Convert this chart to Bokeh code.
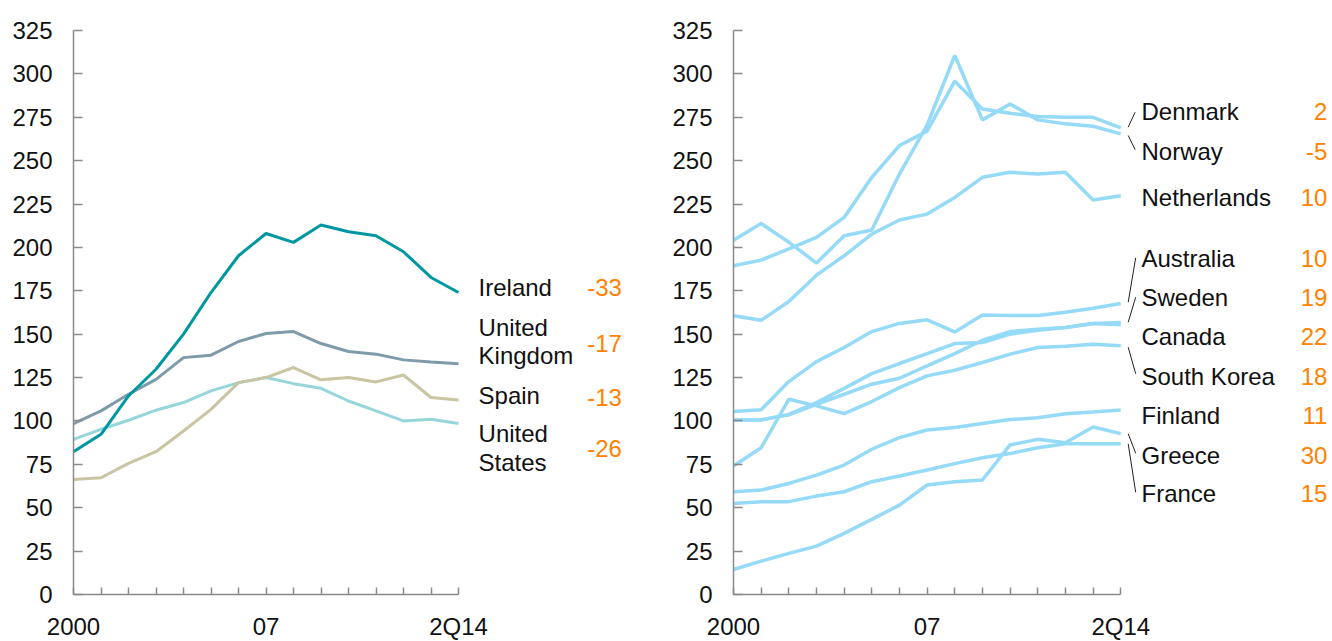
from bokeh.plotting import figure
from bokeh.layouts import row
from bokeh.models import Range1d, FixedTicker
from bokeh.core.properties import value
from bokeh.embed import file_html
from bokeh.resources import INLINE

# ---------------- data ----------------
periods = list(range(15))                      # 2000 ... 2Q14
x_tick_labels = {0: "2000", 7: "07", 14: "2Q14"}
y_ticks = list(range(0, 326, 25))

ireland = [82.3, 92.3, 114.4, 129.8, 150.0, 174.0, 195.2, 208.0, 202.9, 212.9, 209.0, 206.7, 197.5, 182.7, 174.0]
united_kingdom = [98.5, 105.8, 115.4, 124.0, 136.5, 137.9, 145.8, 150.4, 151.5, 144.6, 140.0, 138.5, 135.2, 134.0, 133.0]
spain = [66.2, 67.3, 75.6, 82.3, 94.2, 106.7, 122.1, 125.0, 130.8, 123.7, 125.0, 122.5, 126.5, 113.5, 112.1]
united_states = [89.4, 95.2, 100.4, 106.2, 110.6, 117.3, 122.1, 125.0, 121.5, 118.8, 111.5, 105.8, 100.0, 101.0, 98.5]

denmark = [189.4, 192.7, 199.2, 205.8, 217.3, 240.4, 258.7, 267.0, 295.8, 279.8, 277.3, 275.4, 275.0, 275.0, 268.9]
norway = [204.2, 213.8, 203.0, 191.0, 206.7, 210.0, 242.3, 270.5, 310.6, 273.5, 282.7, 273.5, 271.2, 269.8, 265.4]
netherlands = [160.6, 158.0, 168.8, 184.0, 195.2, 207.7, 215.8, 219.2, 228.8, 240.4, 243.3, 242.3, 243.3, 227.3, 229.8]
australia = [105.4, 106.5, 122.7, 134.2, 142.3, 151.5, 156.2, 158.3, 151.3, 161.0, 160.8, 160.8, 162.7, 165.0, 167.7]
sweden = [100.6, 100.6, 103.8, 110.6, 118.8, 127.3, 133.1, 138.8, 144.6, 145.2, 150.0, 152.3, 153.8, 156.2, 156.7]
canada = [100.6, 100.6, 103.5, 109.6, 115.4, 121.2, 124.6, 131.7, 138.8, 146.5, 151.5, 152.9, 153.8, 156.2, 155.4]
south_korea = [74.0, 84.6, 112.5, 108.7, 104.2, 111.2, 119.2, 126.0, 129.2, 133.7, 138.5, 142.3, 143.1, 144.2, 143.3]
finland = [59.2, 60.2, 64.0, 68.8, 74.6, 83.7, 90.4, 94.8, 96.2, 98.5, 100.8, 101.9, 104.2, 105.2, 106.3]
greece = [14.4, 19.2, 23.7, 27.9, 35.2, 43.3, 51.5, 63.1, 65.0, 66.0, 86.2, 89.4, 87.5, 96.5, 92.7]
france = [52.5, 53.5, 53.5, 56.7, 59.2, 65.0, 68.3, 71.7, 75.4, 78.8, 81.2, 84.6, 86.9, 86.9, 86.9]

left_series = ["United States", "Spain", "United Kingdom", "Ireland"]
left_values = [united_states, spain, united_kingdom, ireland]
left_labels = ["Ireland", "United", "Kingdom", "Spain", "United", "States"]
left_changes = ["-33", "-17", "-13", "-26"]

right_values = [denmark, norway, netherlands, australia, sweden, canada,
                south_korea, finland, greece, france]
right_labels = ["Denmark", "Norway", "Netherlands", "Australia", "Sweden",
                "Canada", "South Korea", "Finland", "Greece", "France"]
right_changes = ["2", "-5", "10", "10", "19", "22", "18", "11", "30", "15"]

# ---------------- layout / style ----------------
FONT = "Liberation Sans"
FS = "24px"
AXIS_COL = "#8a8a8a"
ORANGE = "#FF8200"
left_colors = ["#96D6DB", "#C9C4A2", "#7E9BAA", "#0097A3"]
right_color = "#95DAF6"

# label placement (value-axis positions of text rows)
left_label_y = [177.1, 154.0, 137.7, 114.7, 92.6, 76.2]
left_change_y = [177.1, 144.5, 113.7, 84.0]
right_label_y = [278.2, 255.2, 228.9, 193.8, 171.3, 148.9, 125.8, 103.2, 80.1, 58.2]
leaders = [  # x0, y0, x1, y1 in axis units
    (14.52, 277.9, 14.27, 269.3),
    (14.27, 264.5, 14.52, 256.3),
    (14.54, 194.0, 14.27, 168.4),
    (14.54, 171.3, 14.27, 156.9),
    (14.27, 142.5, 14.54, 127.2),
    (14.27, 92.6, 14.54, 81.4),
    (14.27, 86.8, 14.54, 58.9),
]

TOP = 30
FRAME_H = 564
BOTTOM = 72
H = TOP + FRAME_H + BOTTOM


def make_panel(width, left_border, px_per_unit):
    frame_w = width - left_border
    p = figure(width=width, height=H, output_backend="svg", toolbar_location=None,
               x_range=Range1d(0, frame_w / px_per_unit), y_range=Range1d(0, 325),
               min_border_left=left_border, min_border_right=0,
               min_border_top=TOP, min_border_bottom=BOTTOM)
    p.outline_line_color = None
    p.grid.visible = False
    p.background_fill_color = "white"
    p.border_fill_color = "white"
    for ax in (p.xaxis[0], p.yaxis[0]):
        ax.axis_line_color = AXIS_COL
        ax.axis_line_width = 1.5
        ax.major_tick_line_color = AXIS_COL
        ax.major_tick_line_width = 1.5
        ax.major_tick_out = 0
        ax.minor_tick_in = 0
        ax.minor_tick_out = 0
        ax.major_label_text_font = FONT
        ax.major_label_text_font_size = FS
        ax.major_label_text_color = "#111111"
    xa = p.xaxis[0]
    xa.bounds = (0, 14)
    xa.ticker = FixedTicker(ticks=periods)
    xa.major_label_overrides = {i: x_tick_labels.get(i, "") for i in periods}
    xa.major_tick_in = 7
    xa.major_label_standoff = 18
    ya = p.yaxis[0]
    ya.bounds = (0, 325)
    ya.ticker = FixedTicker(ticks=y_ticks)
    ya.major_tick_in = 9
    ya.major_label_standoff = 21
    return p


# ---------------- left panel ----------------
p1 = make_panel(648, 73, 27.5)
for vals, col in zip(left_values, left_colors):
    p1.line(periods, vals, line_color=col, line_width=3)
p1.text(x=[14.73] * len(left_labels), y=left_label_y, text=left_labels,
        text_font=value(FONT), text_font_size=FS, text_color="#111111",
        text_align="left", text_baseline="middle")
p1.text(x=[19.94] * len(left_changes), y=left_change_y, text=left_changes,
        text_font=value(FONT), text_font_size=FS, text_color=ORANGE,
        text_align="right", text_baseline="middle")

# ---------------- right panel ----------------
p2 = make_panel(684, 85, 27.66)
for vals in right_values:
    p2.line(periods, vals, line_color=right_color, line_width=3.5)
p2.segment(x0=[s[0] for s in leaders], y0=[s[1] for s in leaders],
           x1=[s[2] for s in leaders], y1=[s[3] for s in leaders],
           line_color="#222222", line_width=1)
p2.text(x=[14.75] * len(right_labels), y=right_label_y, text=right_labels,
        text_font=value(FONT), text_font_size=FS, text_color="#111111",
        text_align="left", text_baseline="middle")
p2.text(x=[21.47] * len(right_changes), y=right_label_y, text=right_changes,
        text_font=value(FONT), text_font_size=FS, text_color=ORANGE,
        text_align="right", text_baseline="middle")

layout = row(p1, p2)
open("out.html", "w").write(file_html(layout, INLINE))
